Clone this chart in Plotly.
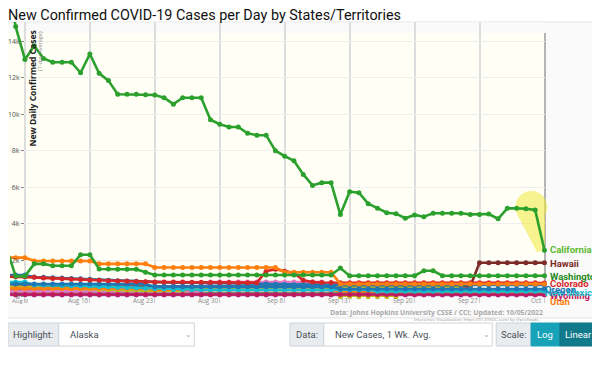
import pandas as pd
import plotly.graph_objects as go

# ---------------- data ----------------
dates = pd.date_range("2022-08-07", "2022-10-04", freq="D")  # 59 days

california = [17600, 14800, 13000, 13750, 13050, 12850, 12850, 12850, 12270, 13300,
              12240, 11840, 11090, 11090, 11090, 11070, 11050, 10900, 10550, 10900,
              10900, 10900, 9700, 9450, 9300, 9300, 8950, 8850, 8850, 8000,
              7700, 7450, 6700, 6100, 6250, 6250, 4500, 5750, 5700, 5100,
              4850, 4600, 4550, 4300, 4480, 4380, 4570, 4570, 4570, 4570,
              4510, 4510, 4530, 4270, 4840, 4840, 4820, 4750, 2550]
washington = [2680, 1130, 1130, 1800, 1800, 1700, 1700, 1700, 2300, 2300,
              1520, 1520, 1500, 1500, 1500, 1340, 1190, 1190, 1190, 1190,
              1190, 1190, 1190, 1190, 1190, 1190, 1190, 1190, 1190, 1190,
              1190, 1190, 1190, 1190, 1190, 1190, 1570, 1150, 1150, 1150,
              1150, 1150, 1150, 1150, 1150, 1420, 1420, 1150, 1150, 1150,
              1150, 1150, 1150, 1150, 1150, 1150, 1150, 1150, 1150]
florida = [2140, 2140, 2140, 1960, 1960, 1960, 1960, 1960, 1960, 1960,
           1800, 1800, 1800, 1800, 1800, 1800, 1600, 1600, 1600, 1600,
           1600, 1600, 1600, 1600, 1600, 1600, 1600, 1600, 1600, 1600,
           1340, 1340, 1340, 1340, 1340, 1340, 700, 700, 700, 700,
           700, 700, 700, 700, 700, 700, 700, 700, 700, 700,
           700, 700, 700, 700, 700, 700, 700, 700, 700]
hawaii = [560] * 51 + [1860] * 8
colorado = [1100, 1100, 1100, 1060, 1030, 1000, 980, 960, 940, 920,
            900, 880, 860, 840, 830, 820, 810, 800, 800, 800,
            790, 790, 780, 780, 780, 770, 770, 770, 1400, 1500,
            1400, 1300, 900, 800, 780, 780, 760, 760, 760, 760,
            760, 760, 760, 760, 760, 760, 760, 760, 760, 760,
            760, 760, 760, 760, 760, 760, 760, 760, 750]
blue_a = [1190, 1190, 1190, 1080, 1060, 1040, 1020, 1000, 980, 950,
          920, 900, 880, 860, 840, 800, 780, 780, 770, 770,
          760, 750, 740, 730, 720, 710, 700, 700, 690, 680,
          670, 660, 660, 650, 650, 650, 650, 650, 650, 650,
          650, 650, 650, 650, 650, 650, 650, 650, 650, 650,
          650, 650, 650, 650, 650, 650, 650, 650, 640]
oregon = [700] * 16 + [550] * 20 + [420] * 23
new_mexico = [800, 800, 800, 640, 640, 640, 620, 600, 600, 580,
              560, 540, 520, 500, 480, 460, 440, 420, 400, 400] + [380] * 20 + [300] * 19
olive = [550, 550, 550, 520, 500, 480, 470, 460, 450, 440,
         400, 380, 360, 350, 340, 330, 320, 320, 320, 320] + [500] * 30 + [None] * 9
olive_zero = [None] * 36 + [0] * 7 + [None] * 16
pink = [300] * 22 + [800] * 13 + [350] * 24
utah = [450] * 16 + [380] * 20 + [300] * 23
brown = [380] * 59
gray = [220] * 59
wyoming = [120] * 59
purple = [90] * 59

tick_dates = pd.date_range("2022-08-09", "2022-10-04", freq="7D")
tick_text = ["Aug 9", "Aug 16", "Aug 23", "Aug 30", "Sep 6", "Sep 13", "Sep 20", "Sep 27", "Oct"]
y_ticks = [0, 2000, 4000, 6000, 8000, 10000, 12000, 14000]
y_tick_text = ["0", "2k", "4k", "6k", "8k", "10k", "12k", "14k"]

# series: (name, values, color, label text) -- drawn in this order
series = [
    ("Hawaii", hawaii, "#7d2b27", "Hawaii"),
    ("Purple", purple, "#9467bd", None),
    ("Gray", gray, "#7f7f7f", None),
    ("Brown", brown, "#8c564b", None),
    ("Pink", pink, "#e377c2", None),
    ("Olive", olive, "#bcbd22", None),
    ("Olive0", olive_zero, "#bcbd22", None),
    ("Utah", utah, "#ff7f0e", "Utah"),
    ("Wyoming", wyoming, "#c2185b", "Wyoming"),
    ("New Mexico", new_mexico, "#17becf", "New Mexico"),
    ("Oregon", oregon, "#1f77b4", "Oregon"),
    ("BlueA", blue_a, "#1f77b4", None),
    ("Colorado", colorado, "#d62728", "Colorado"),
    ("Florida", florida, "#ff7f0e", None),
    ("Washington", washington, "#2ca02c", "Washington"),
    ("California", california, "#2ca02c", "California"),
]
label_py = {"California": 249, "Hawaii": 263, "Washington": 276, "Colorado": 283,
            "Oregon": 289, "New Mexico": 292, "Wyoming": 295, "Utah": 301}
label_px = {"Oregon": 543, "New Mexico": 543}
label_color = {"California": "#5cb82e", "Hawaii": "#7d2b27", "Washington": "#238b22",
               "Colorado": "#d62728", "Oregon": "#1f77b4", "New Mexico": "#17becf",
               "Wyoming": "#c2185b", "Utah": "#ff7f0e"}

# ---------------- geometry (reference pixels; page body adds an 8px offset) ----------------
W, H = 600, 388
OFF = 8
FL, FR, FT, FB = 0, 545 - OFF, 22 - OFF, 297 - OFF   # plot area in figure pixels
px_per_day = 9.32
x0_fig = 23 - OFF  # figure pixel of 2022-08-09


def xp(r):
    return (r - OFF - FL) / (FR - FL)


def yp(r):
    return (FB - (r - OFF)) / (FB - FT)


d9 = pd.Timestamp("2022-08-09")
x_range = [d9 + pd.Timedelta(days=(FL - x0_fig) / px_per_day),
           d9 + pd.Timedelta(days=(FR - x0_fig) / px_per_day + 0.05)]
zero_fig, px_per_k = 296.7 - OFF, 18.25
y_range = [(zero_fig - FB) / px_per_k * 1000, (zero_fig - FT) / px_per_k * 1000]

fig = go.Figure()

# highlighter stroke over California's last drop (anchored on the data)
fig.add_trace(go.Scatter(
    x=[dates[-3] + pd.Timedelta(hours=14), dates[-1] + pd.Timedelta(hours=18)],
    y=[california[-3] + 90, california[-1] + 280],
    mode="lines+markers", line=dict(color="#f2ea3c", width=32),
    marker=dict(size=32, color="#f2ea3c"), opacity=0.55,
    hoverinfo="skip", showlegend=False, cliponaxis=False))

for name, vals, color, lab in series:
    fig.add_trace(go.Scatter(
        x=dates, y=vals, mode="lines+markers", name=name,
        line=dict(color=color, width=2.6),
        marker=dict(size=5, color=color),
        cliponaxis=False, showlegend=False, connectgaps=False))

shapes = []
shapes.append(dict(type="rect", xref="paper", yref="paper", x0=xp(2), x1=xp(598), y0=yp(318), y1=yp(22),
                   fillcolor="#fafafa", line=dict(color="#e3e3e3", width=1), layer="below"))
shapes.append(dict(type="rect", xref="paper", yref="paper", x0=xp(4), x1=xp(545), y0=yp(297), y1=yp(33),
                   fillcolor="#fffff6", line=dict(width=0), layer="below"))
shapes.append(dict(type="rect", xref="paper", yref="paper", x0=xp(2.5), x1=xp(545), y0=yp(33), y1=yp(22.5),
                   fillcolor="#fafafa", line=dict(width=0), layer="between"))
shapes.append(dict(type="line", xref="paper", yref="paper", x0=xp(545), x1=xp(545), y0=yp(297), y1=yp(33),
                   line=dict(color="#b4b4b4", width=2), layer="between"))

annotations = []
for name, vals, color, lab in series:
    if lab:
        annotations.append(dict(x=xp(label_px.get(lab, 548)), y=yp(label_py[lab]),
                                xref="paper", yref="paper", text="<b>" + lab + "</b>",
                                showarrow=False, xanchor="left", yanchor="middle",
                                font=dict(family="Roboto", size=9.5, color=label_color[lab])))

# x tick labels (left of the tick marks; the first one kept inside the page)
for i, (d, t) in enumerate(zip(tick_dates, tick_text)):
    first = i == 0
    annotations.append(dict(x=d, y=yp(300.5), xref="x", yref="paper", text=t, showarrow=False,
                            xanchor="left" if first else "right", yanchor="middle",
                            xshift=-14.6 if first else 0,
                            font=dict(family="Open Sans", size=6.1 if first else 6.3, color="#8a8a8a")))

# axis title inside plot
annotations.append(dict(x=xp(30.5), y=yp(88), xref="paper", yref="paper", text="<b>New Daily Confirmed Cases</b>",
                        textangle=-90, showarrow=False, xanchor="center", yanchor="middle",
                        font=dict(family="Open Sans", size=8.5, color="#222")))
annotations.append(dict(x=xp(38), y=yp(51), xref="paper", yref="paper", text="(7-day Average)",
                        textangle=-90, showarrow=False, xanchor="center", yanchor="middle",
                        font=dict(family="Open Sans", size=5.5, color="#888")))
# source
annotations.append(dict(x=xp(545), y=yp(312), xref="paper", yref="paper",
                        text="<b>Data: Johns Hopkins University CSSE / CCI; Updated: 10/05/2022</b>",
                        showarrow=False, xanchor="right", yanchor="middle",
                        font=dict(family="Open Sans", size=6.8, color="#a8a8a8")))
annotations.append(dict(x=xp(543), y=yp(318.5), xref="paper", yref="paper",
                        text="Interactive Visualization: https://91-DIVOC.com/ by @profwade_",
                        showarrow=False, xanchor="right", yanchor="middle",
                        font=dict(family="Open Sans", size=4.3, color="#999")))

# controls row
ctl_top, ctl_bot = 323, 346


def box(x0, x1, fill, line="#ced4da"):
    shapes.append(dict(type="rect", xref="paper", yref="paper", x0=xp(x0), x1=xp(x1), y0=yp(ctl_bot), y1=yp(ctl_top),
                       fillcolor=fill, line=dict(color=line, width=1), layer="above"))


def txt(x, s, color="#495057", anchor="left", size=9.5):
    annotations.append(dict(x=xp(x), y=yp((ctl_top + ctl_bot) / 2), xref="paper", yref="paper",
                            text=s, showarrow=False, xanchor=anchor, yanchor="middle",
                            font=dict(family="Roboto", size=size, color=color)))


box(6, 57, "#e9ecef"); box(57, 193, "#ffffff")
txt(31.5, "Highlight:", anchor="center"); txt(66, "Alaska"); txt(187, "⌄", color="#aaa", anchor="center", size=8)
box(289, 323, "#e9ecef"); box(323, 492, "#ffffff")
txt(306, "Data:", anchor="center"); txt(332, "New Cases, 1 Wk. Avg."); txt(486, "⌄", color="#aaa", anchor="center", size=8)
box(496, 531, "#e9ecef")
box(531, 560, "#17a2b8", line="#17a2b8"); box(560, 597, "#117a8b", line="#10707f")
txt(513.5, "Scale:", anchor="center"); txt(545.5, "Log", color="#ffffff", anchor="center")
txt(578.5, "Linear", color="#ffffff", anchor="center")

fig.update_layout(
    width=W, height=H,
    margin=dict(l=FL, r=W - FR, t=FT, b=H - FB),
    paper_bgcolor="#ffffff", plot_bgcolor="rgba(0,0,0,0)",
    title=dict(text="New Confirmed COVID-19 Cases per Day by States/Territories",
               x=0, xanchor="left", xref="container", y=1 - 6.5 / H, yanchor="middle", yref="container",
               font=dict(family="Roboto", size=14.4, color="#111")),
    shapes=shapes, annotations=annotations,
    xaxis=dict(range=x_range, tickvals=tick_dates, showticklabels=False, showgrid=True,
               gridcolor="#dddddd", gridwidth=1.5, zeroline=False, showline=False,
               ticks="outside", ticklen=5, tickcolor="#cccccc"),
    yaxis=dict(range=y_range, tickvals=y_ticks, ticktext=y_tick_text, showgrid=True,
               gridcolor="#eeeeee", gridwidth=1, zeroline=False, showline=False,
               ticks="outside", ticklen=3, tickcolor="#888", anchor="free", position=xp(22),
               tickfont=dict(family="Open Sans", size=7, color="#555")),
    hovermode=False,
)

fig.write_html("out.html")
